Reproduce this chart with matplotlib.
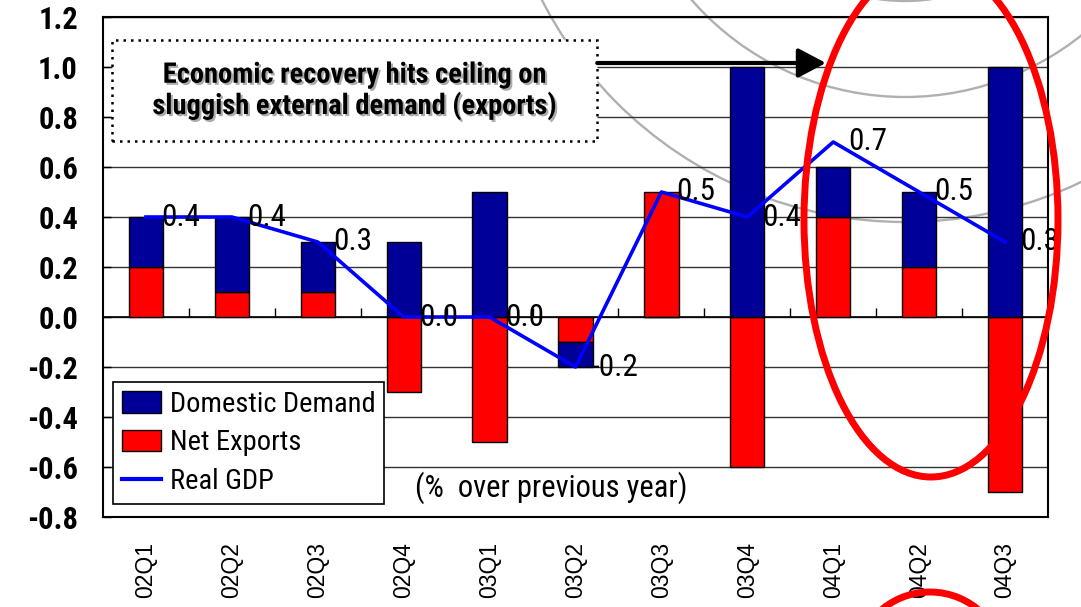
import matplotlib
matplotlib.use("Agg")
import matplotlib.pyplot as plt
import matplotlib.patheffects as pe
from matplotlib import font_manager as fm
from matplotlib.patches import Circle, Ellipse, Rectangle, Patch
from matplotlib.lines import Line2D

# data (% over previous year)
quarters = ["02Q1", "02Q2", "02Q3", "02Q4", "03Q1", "03Q2",
            "03Q3", "03Q4", "04Q1", "04Q2", "04Q3"]
domestic_demand = [0.2, 0.3, 0.2, 0.3, 0.5, -0.1, 0.0, 1.0, 0.2, 0.3, 1.0]
net_exports = [0.2, 0.1, 0.1, -0.3, -0.5, -0.1, 0.5, -0.6, 0.4, 0.2, -0.7]
real_gdp = [0.4, 0.4, 0.3, 0.0, 0.0, -0.2, 0.5, 0.4, 0.7, 0.5, 0.3]
y_ticks = [-0.8, -0.6, -0.4, -0.2, 0.0, 0.2, 0.4, 0.6, 0.8, 1.0, 1.2]

NAVY = "#000099"
RED = "#ff0000"


def is_bold(f):
    w = f.weight
    if isinstance(w, str):
        return w in ("bold", "heavy", "extra bold", "demibold", "semibold", "black")
    return w >= 600


def narrow_font(bold):
    """Find an Arial-Narrow-like face among the installed fonts."""
    prefs = ["Liberation Sans Narrow", "Arial Narrow", "Roboto Condensed",
             "Noto Sans", "Open Sans", "DejaVu Sans", "Roboto"]
    for fam in prefs:
        for f in fm.fontManager.ttflist:
            if f.name != fam or f.style != "normal" or is_bold(f) != bold:
                continue
            if "Narrow" in fam or "Condensed" in fam or f.stretch in ("condensed", 300, 75):
                return fm.FontProperties(fname=f.fname)
    return fm.FontProperties(family="Liberation Sans",
                             weight="bold" if bold else "normal")


def fp(base, size):
    p = base.copy()
    p.set_size(size)
    return p


REG = narrow_font(False)
BOLD = narrow_font(True)

W, H = 1081, 607
fig = plt.figure(figsize=(W / 100, H / 100), dpi=100)
fig.patch.set_facecolor("white")

# pixel-space layers for the decorations behind / in front of the chart
ax_back = fig.add_axes([0, 0, 1, 1], zorder=0)
ax_front = fig.add_axes([0, 0, 1, 1], zorder=2)
for a in (ax_back, ax_front):
    a.set_xlim(0, W)
    a.set_ylim(H, 0)
    a.axis("off")
    a.patch.set_alpha(0)

for r in (187, 283, 408):
    ax_back.add_patch(Circle((905, -186), r, fill=False, ec="#b0b0b0", lw=1.7))

ax_front.add_patch(Ellipse((931, 220), 254, 514, fill=False, ec=RED, lw=5))
ax_front.add_patch(Circle((930, 667), 75, fill=False, ec=RED, lw=5))

# main chart
ax = fig.add_axes([103 / W, 1 - 517 / H, 945 / W, 500 / H], zorder=1)
ax.patch.set_alpha(0)

x = list(range(len(quarters)))
dd_bottom = [n if (n * d) > 0 else 0 for n, d in zip(net_exports, domestic_demand)]

ax.bar(x, net_exports, width=0.4, color=RED, edgecolor="black", lw=1, zorder=3)
ax.bar(x, domestic_demand, bottom=dd_bottom, width=0.4, color=NAVY,
       edgecolor="black", lw=1, zorder=3)
ax.plot(x, real_gdp, color="#0000ff", lw=2.6, zorder=4)

for xi, v in zip(x, real_gdp):
    ax.annotate(f"{v:.1f}", (xi, v), xytext=(11, 0), textcoords="offset points",
                va="center", ha="left", fontproperties=fp(REG, 22.5), zorder=6)

ax.set_xlim(-0.5, len(quarters) - 0.5)
ax.set_ylim(-0.8, 1.2)
ax.set_yticks(y_ticks)
ax.set_yticklabels([f"{t:.1f}" for t in y_ticks])
for lbl in ax.get_yticklabels():
    lbl.set_fontproperties(fp(BOLD, 22))
ax.set_xticks(x)
ax.set_xticklabels(quarters, rotation=90, fontsize=16.5,
                   family=["Liberation Sans", "DejaVu Sans"])
ax.tick_params(axis="x", length=0, pad=18)
ax.tick_params(axis="y", direction="in", length=6, width=1, pad=18)
ax.grid(axis="y", color="#333333", lw=1, zorder=1)
ax.axhline(0, color="black", lw=1.2, zorder=2)
ax.vlines([i + 0.5 for i in x[:-1]], 0, 0.036, color="black", lw=1, zorder=2)
for s in ax.spines.values():
    s.set_linewidth(1.5)

# callout box with arrow
ax.add_patch(Rectangle((0.0095, 0.752), 0.5135, 0.202, transform=ax.transAxes,
                       facecolor="white", edgecolor="black", lw=1.8,
                       linestyle=(0, (1, 2)), zorder=5))
ax.text(0.267, 0.852, "Economic recovery hits ceiling on\nsluggish external demand (exports)",
        transform=ax.transAxes, ha="center", va="center",
        fontproperties=fp(BOLD, 20.5), linespacing=1.15, zorder=6,
        path_effects=[pe.withSimplePatchShadow(offset=(1.5, -1.5),
                                               shadow_rgbFace="#888888", alpha=0.7)])
ax.annotate("", xy=(0.765, 0.908), xytext=(0.523, 0.908), xycoords="axes fraction",
            arrowprops=dict(arrowstyle="-|>,head_length=1.7,head_width=0.9",
                            color="black", lw=3, mutation_scale=10,
                            shrinkA=0, shrinkB=0), zorder=6)

ax.text(0.33, 0.058, "(%  over previous year)", transform=ax.transAxes,
        ha="left", va="center", fontproperties=fp(REG, 22), zorder=6)

handles = [Patch(facecolor=NAVY, edgecolor="black", label="Domestic Demand"),
           Patch(facecolor=RED, edgecolor="black", label="Net Exports"),
           Line2D([0], [0], color="#0000ff", lw=3, label="Real GDP")]
leg = ax.legend(handles=handles, loc="upper left", bbox_to_anchor=(0.0106, 0.27),
                prop=fp(REG, 20.5), frameon=True, fancybox=False, edgecolor="black",
                framealpha=1, borderaxespad=0, borderpad=0.3, handlelength=1.4,
                handleheight=0.8, handletextpad=0.3, labelspacing=0.42)
leg.get_frame().set_linewidth(1.2)
leg.set_zorder(7)

plt.savefig("out.png", dpi=100)
